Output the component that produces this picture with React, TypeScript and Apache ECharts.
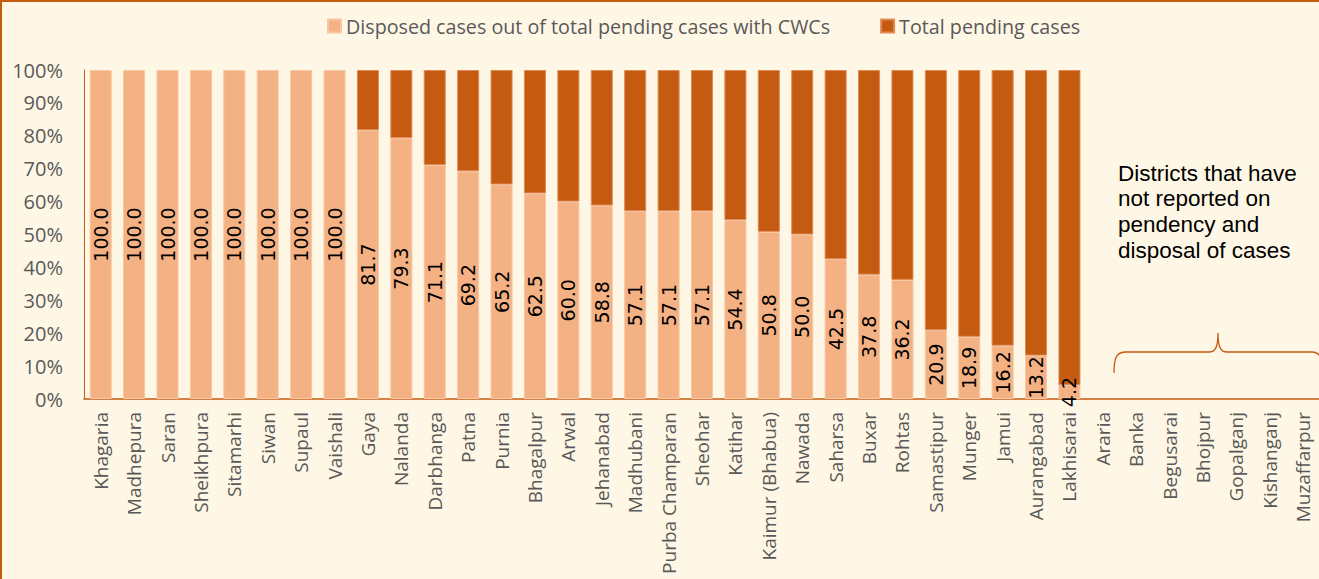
import React, { useEffect, useRef } from "react";
import * as echarts from "echarts";

const districts = [
  "Khagaria", "Madhepura", "Saran", "Sheikhpura", "Sitamarhi", "Siwan", "Supaul", "Vaishali",
  "Gaya", "Nalanda", "Darbhanga", "Patna", "Purnia", "Bhagalpur", "Arwal", "Jehanabad",
  "Madhubani", "Purba Champaran", "Sheohar", "Katihar", "Kaimur (Bhabua)", "Nawada", "Saharsa",
  "Buxar", "Rohtas", "Samastipur", "Munger", "Jamui", "Aurangabad", "Lakhisarai",
  "Araria", "Banka", "Begusarai", "Bhojpur", "Gopalganj", "Kishanganj", "Muzaffarpur",
];

const disposedShare = [
  100.0, 100.0, 100.0, 100.0, 100.0, 100.0, 100.0, 100.0,
  81.7, 79.3, 71.1, 69.2, 65.2, 62.5, 60.0, 58.8,
  57.1, 57.1, 57.1, 54.4, 50.8, 50.0, 42.5,
  37.8, 36.2, 20.9, 18.9, 16.2, 13.2, 4.2,
  null, null, null, null, null, null, null,
];

const pendingShare = [
  null, null, null, null, null, null, null, null,
  18.3, 20.7, 28.9, 30.8, 34.8, 37.5, 40.0, 41.2,
  42.9, 42.9, 42.9, 45.6, 49.2, 50.0, 57.5,
  62.2, 63.8, 79.1, 81.1, 83.8, 86.8, 95.8,
  null, null, null, null, null, null, null,
];

const yTicks = { min: 0, max: 100, interval: 10 };

const noteLines = ["Districts that have", "not reported on", "pendency and", "disposal of cases"];

const W = 1325;
const H = 590;

echarts.graphic.registerShape(
  "brace",
  echarts.graphic.extendPath(
    "M1114,373 C1114,358 1116,352 1126,352 L1209,352 C1215,352 1218,348 1218,333 C1218,348 1221,352 1227,352 L1312,352 C1320,352 1322,358 1322,373",
    {}
  )
);

export default function App() {
  const ref = useRef<HTMLDivElement>(null);

  useEffect(() => {
    if (!ref.current) return;
    const chart = echarts.init(ref.current, undefined, { renderer: "svg" });
    const font = "'Open Sans', sans-serif";
    chart.setOption({
      animation: false,
      backgroundColor: "#FFF7E5",
      textStyle: { fontFamily: font },
      legend: {
        top: 11,
        left: 322,
        itemWidth: 13,
        itemHeight: 13,
        itemGap: 50,
        icon: "rect",
        textStyle: { fontSize: 19.7, color: "#595959", fontFamily: font },
        data: [
          "Disposed cases out of total pending cases with CWCs",
          "Total pending cases",
        ],
      },
      grid: { left: 84, top: 70, right: W - 1320, bottom: H - 399, containLabel: false },
      xAxis: {
        type: "category",
        data: districts,
        axisLine: { show: true, lineStyle: { color: "#C55A11", width: 1.5 } },
        axisTick: { show: false },
        axisLabel: {
          rotate: 90,
          interval: 0,
          margin: 13,
          fontSize: 19,
          color: "#595959",
          fontFamily: font,
        },
      },
      yAxis: {
        type: "value",
        min: yTicks.min,
        max: yTicks.max,
        interval: yTicks.interval,
        axisLine: { show: true, lineStyle: { color: "#C55A11", width: 1 } },
        axisTick: { show: false },
        splitLine: { show: false },
        axisLabel: {
          formatter: "{value}%",
          fontSize: 20,
          color: "#595959",
          margin: 21,
          fontFamily: font,
        },
      },
      series: [
        {
          name: "Disposed cases out of total pending cases with CWCs",
          type: "bar",
          stack: "total",
          data: disposedShare,
          barCategoryGap: "34%",
          itemStyle: { color: "#F4B183", borderColor: "#F8C7A3", borderWidth: 1 },
          label: {
            show: true,
            position: "inside",
            rotate: 90,
            formatter: (p: any) => (p.value == null ? "" : Number(p.value).toFixed(1)),
            color: "#000000",
            fontSize: 19,
            fontFamily: "'DejaVu Sans', sans-serif",
          },
        },
        {
          name: "Total pending cases",
          type: "bar",
          stack: "total",
          data: pendingShare,
          barCategoryGap: "34%",
          itemStyle: { color: "#C55A11", borderColor: "#E08A55", borderWidth: 1 },
        },
      ],
      graphic: [
        {
          type: "rect",
          silent: true,
          shape: { x: 1, y: 1, width: W - 2, height: H - 2 },
          style: { fill: "none", stroke: "#C55A11", lineWidth: 2 },
          z: 100,
        },
        {
          type: "brace",
          x: 0,
          y: 0,
          style: { fill: "none", stroke: "#C55A11", lineWidth: 1.3 },
          z: 100,
        },
        ...noteLines.map((line, i) => ({
          type: "text",
          x: 1118,
          y: 173 + i * 25.8,
          style: {
            text: line,
            fontSize: 22.5,
            lineHeight: 22.5,
            fill: "#000000",
            fontFamily: "'Liberation Sans', Arial, sans-serif",
            textVerticalAlign: "middle",
          },
          z: 100,
        })),
      ],
    });
    return () => chart.dispose();
  }, []);

  return (
    <div style={{ position: "fixed", left: 0, top: 0, width: 1319, height: 579, overflow: "hidden" }}>
      <div ref={ref} style={{ width: W, height: H }} />
    </div>
  );
}
